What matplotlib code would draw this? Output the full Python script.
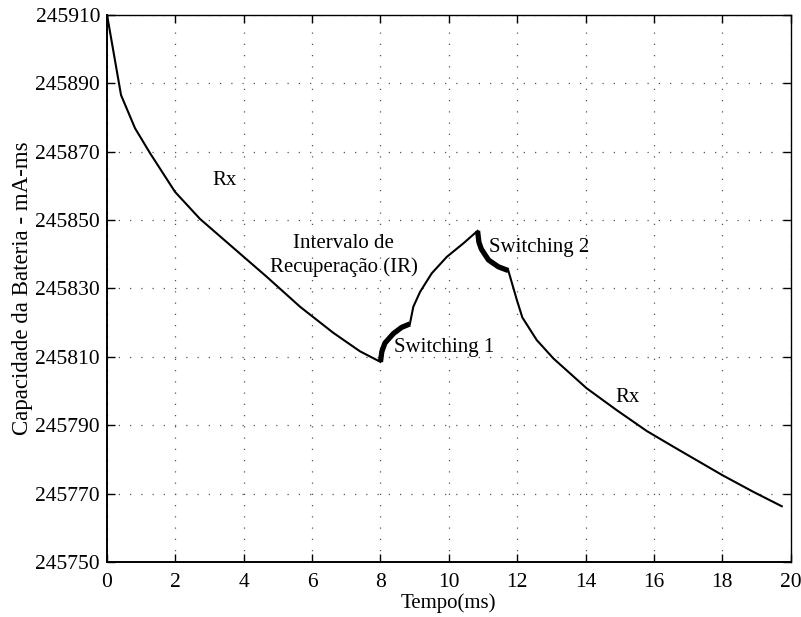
import numpy as np
import matplotlib.pyplot as plt
from matplotlib.ticker import ScalarFormatter

plt.rcParams['font.family'] = ['Liberation Serif', 'DejaVu Serif']

# Rx - descarga antes do switching
t_rx1 = [0.0, 0.41, 0.82, 1.26, 1.99, 2.72, 3.70, 4.67, 5.65, 6.62, 7.40, 8.0]
c_rx1 = [245910, 245886.5, 245876.8, 245869.5, 245858.2, 245850.3, 245841.8,
         245833.4, 245824.6, 245817.0, 245811.6, 245808.5]

# Switching 1
t_sw1 = [8.0, 8.04, 8.13, 8.38, 8.62, 8.86]
c_sw1 = [245808.5, 245811.5, 245814.0, 245816.8, 245818.6, 245819.6]

# Intervalo de recuperacao
t_ir = [8.86, 8.96, 9.16, 9.50, 9.94, 10.43, 10.84]
c_ir = [245819.6, 245824.6, 245829.0, 245834.4, 245839.2, 245843.2, 245846.8]

# Switching 2
t_sw2 = [10.84, 10.88, 10.95, 11.16, 11.45, 11.74]
c_sw2 = [245846.8, 245843.5, 245841.5, 245838.3, 245836.3, 245835.2]

# Rx - descarga depois do switching
t_rx2 = [11.74, 11.99, 12.15, 12.57, 13.06, 14.03, 14.91, 15.79, 16.57, 18.0, 18.91, 19.74]
c_rx2 = [245835.2, 245826.6, 245821.5, 245814.9, 245809.5, 245800.8, 245794.4,
         245788.3, 245783.7, 245775.4, 245770.5, 245766.3]

fig = plt.figure(figsize=(8.01, 6.17), dpi=100)
ax = fig.add_axes([0.1336, 0.0891, 0.8535, 0.8871])

ax.plot(t_rx1, c_rx1, 'k-', lw=1.5)
ax.plot(t_sw1, c_sw1, 'k-', lw=3.8, solid_capstyle='butt')
ax.plot(t_ir, c_ir, 'k-', lw=1.5)
ax.plot(t_sw2, c_sw2, 'k-', lw=3.8, solid_capstyle='butt')
ax.plot(t_rx2, c_rx2, 'k-', lw=1.5)

ax.text(3.45, 245861.4, 'Rx', fontsize=15, ha='center', va='center')
ax.text(6.93, 245839.6, 'Intervalo de\nRecuperação (IR)', fontsize=15,
        ha='center', va='center', linespacing=1.3)
ax.text(8.40, 245812.8, 'Switching 1', fontsize=15, ha='left', va='center')
ax.text(11.18, 245842.0, 'Switching 2', fontsize=15, ha='left', va='center')
ax.text(15.24, 245798.2, 'Rx', fontsize=15, ha='center', va='center')

ax.set_xlim(0, 20)
ax.set_ylim(245750, 245910)
ax.set_xticks(np.arange(0, 21, 2))
ax.set_yticks(np.arange(245750, 245911, 20))
fmt = ScalarFormatter(useOffset=False)
ax.yaxis.set_major_formatter(fmt)

ax.grid(True, color='#555555', linestyle=(0, (1, 8)), linewidth=0.9)
ax.tick_params(direction='in', top=True, right=True, length=6, width=1,
               labelsize=15.5)
ax.tick_params(axis='y', pad=5)
ax.tick_params(axis='x', pad=8)
for s in ax.spines.values():
    s.set_linewidth(1.0)
ax.spines['left'].set_linewidth(1.4)
ax.spines['bottom'].set_linewidth(1.4)

ax.set_xlabel('Tempo(ms)', fontsize=15, labelpad=1)
ax.set_ylabel('Capacidade da Bateria - mA-ms', fontsize=16.5, labelpad=2)

plt.savefig('out.png')
